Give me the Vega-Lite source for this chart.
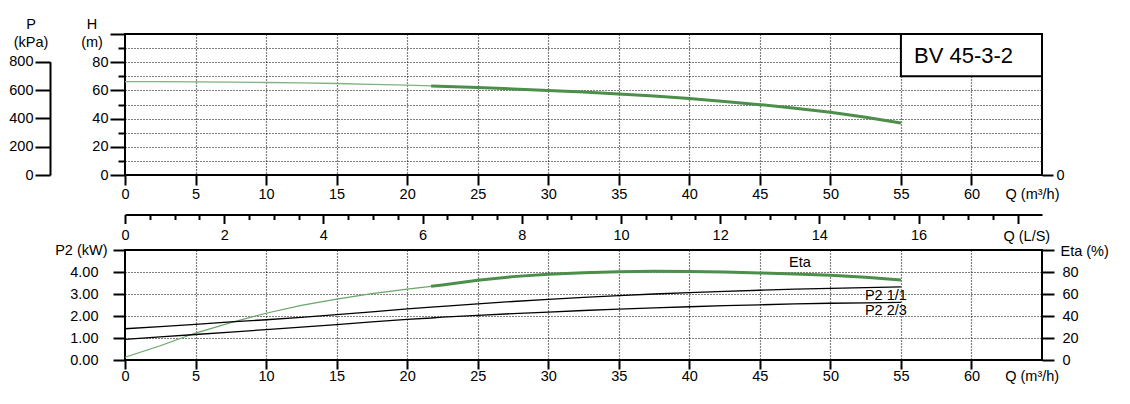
{
  "$schema": "https://vega.github.io/schema/vega-lite/v6.json",
  "padding": {"left": 7, "top": 15, "right": 5, "bottom": 5},
  "spacing": 35.5,
  "bounds": "flush",
  "background": "white",
  "config": {
    "font": "Liberation Sans",
    "view": {"stroke": "#000", "strokeWidth": 2},
    "axis": {
      "labelFont": "Liberation Sans", "labelFontSize": 14.5, "labelColor": "#000",
      "titleFont": "Liberation Sans", "titleFontSize": 14.5, "titleFontWeight": "normal", "titleColor": "#000",
      "tickColor": "#000", "tickWidth": 2, "domainColor": "#000", "domainWidth": 2,
      "gridColor": "#000", "gridDash": [1, 2], "gridWidth": 1.2,
      "labelFlush": false, "labelOverlap": false, "labelBound": false
    },
    "text": {"font": "Liberation Sans"}
  },
  "datasets": {
    "H": [
      {"Q": 0, "H": 66.2}, {"Q": 2.5, "H": 66.2}, {"Q": 5, "H": 66.1}, {"Q": 7.5, "H": 65.9},
      {"Q": 10, "H": 65.6}, {"Q": 12.5, "H": 65.3}, {"Q": 15, "H": 64.9}, {"Q": 17.5, "H": 64.3},
      {"Q": 20, "H": 63.7}, {"Q": 21.7, "H": 63.2}, {"Q": 25, "H": 62.0}, {"Q": 27.5, "H": 61.0},
      {"Q": 30, "H": 59.9}, {"Q": 32.5, "H": 58.8}, {"Q": 35, "H": 57.5}, {"Q": 37.5, "H": 56.0},
      {"Q": 40, "H": 54.2}, {"Q": 42.5, "H": 52.2}, {"Q": 45, "H": 49.9}, {"Q": 47.5, "H": 47.4},
      {"Q": 50, "H": 44.5}, {"Q": 52.5, "H": 41.0}, {"Q": 55, "H": 36.9}
    ],
    "perf": [
      {"Q": 0, "Eta": 2.5, "P2_11": 1.42, "P2_23": 0.94},
      {"Q": 2.5, "Eta": 13, "P2_11": 1.52, "P2_23": 1.05},
      {"Q": 5, "Eta": 24.5, "P2_11": 1.62, "P2_23": 1.16},
      {"Q": 7.5, "Eta": 34, "P2_11": 1.73, "P2_23": 1.27},
      {"Q": 10, "Eta": 42.5, "P2_11": 1.83, "P2_23": 1.38},
      {"Q": 12.5, "Eta": 49.7, "P2_11": 1.94, "P2_23": 1.49},
      {"Q": 15, "Eta": 55.3, "P2_11": 2.06, "P2_23": 1.61},
      {"Q": 17.5, "Eta": 60.3, "P2_11": 2.19, "P2_23": 1.73},
      {"Q": 20, "Eta": 64.5, "P2_11": 2.32, "P2_23": 1.85},
      {"Q": 21.7, "Eta": 67, "P2_11": 2.40, "P2_23": 1.91},
      {"Q": 22.5, "Eta": 68.2, "P2_11": 2.44, "P2_23": 1.95},
      {"Q": 25, "Eta": 72.5, "P2_11": 2.55, "P2_23": 2.03},
      {"Q": 27.5, "Eta": 75.8, "P2_11": 2.66, "P2_23": 2.11},
      {"Q": 30, "Eta": 78, "P2_11": 2.76, "P2_23": 2.18},
      {"Q": 32.5, "Eta": 79.3, "P2_11": 2.85, "P2_23": 2.25},
      {"Q": 35, "Eta": 80.2, "P2_11": 2.93, "P2_23": 2.31},
      {"Q": 37.5, "Eta": 80.6, "P2_11": 3.0, "P2_23": 2.37},
      {"Q": 40, "Eta": 80.5, "P2_11": 3.06, "P2_23": 2.42},
      {"Q": 42.5, "Eta": 80, "P2_11": 3.12, "P2_23": 2.47},
      {"Q": 45, "Eta": 79.2, "P2_11": 3.17, "P2_23": 2.51},
      {"Q": 47.5, "Eta": 78.2, "P2_11": 3.22, "P2_23": 2.55},
      {"Q": 50, "Eta": 77, "P2_11": 3.26, "P2_23": 2.58},
      {"Q": 52.5, "Eta": 75.2, "P2_11": 3.29, "P2_23": 2.60},
      {"Q": 55, "Eta": 72.8, "P2_11": 3.32, "P2_23": 2.62}
    ]
  },
  "vconcat": [
    {
      "width": 917,
      "height": 141,
      "layer": [
        {
          "data": {"name": "H"},
          "mark": {"type": "line", "color": "#7fb27f", "strokeWidth": 1.3},
          "encoding": {
            "x": {
              "field": "Q", "type": "quantitative",
              "scale": {"domain": [0, 65], "nice": false, "zero": false},
              "axis": {
                "values": [0,2.5,5,7.5,10,12.5,15,17.5,20,22.5,25,27.5,30,32.5,35,37.5,40,42.5,45,47.5,50,52.5,55,57.5,60,62.5],
                "labelExpr": "datum.value % 5 === 0 ? datum.label : ''",
                "tickSize": {"condition": {"test": "datum.value % 5 === 0", "value": 10}, "value": 6},
                "labelPadding": 2,
                "grid": true,
                "gridOpacity": {"condition": {"test": "datum.value % 5 === 0 && datum.value > 0", "value": 1}, "value": 0},
                "domain": false,
                "title": "Q (m³/h)", "titleX": 907, "titleY": 23, "titleAlign": "center", "titleBaseline": "alphabetic"
              }
            },
            "y": {
              "field": "H", "type": "quantitative",
              "scale": {"domain": [0, 100], "nice": false},
              "axis": {
                "orient": "left",
                "values": [0,10,20,30,40,50,60,70,80,90,100],
                "labelExpr": "datum.value % 20 === 0 && datum.value < 100 ? datum.label : ''",
                "tickSize": {"condition": {"test": "datum.value % 20 === 0", "value": 15}, "value": 7},
                "labelPadding": 2,
                "grid": true,
                "gridOpacity": {"condition": {"test": "datum.value > 0 && datum.value < 100", "value": 1}, "value": 0},
                "domain": false,
                "title": ["H", "(m)"], "titleAngle": 0, "titleX": -33.5, "titleY": -6,
                "titleAlign": "center", "titleBaseline": "alphabetic", "titleLineHeight": 18
              }
            }
          }
        },
        {
          "data": {"name": "H"},
          "transform": [{"filter": "datum.Q >= 21.7"}],
          "mark": {"type": "line", "color": "#4b8f4b", "strokeWidth": 3},
          "encoding": {
            "x": {"field": "Q", "type": "quantitative", "scale": {"domain": [0, 65], "nice": false, "zero": false}},
            "y": {"field": "H", "type": "quantitative", "scale": {"domain": [0, 100], "nice": false}, "axis": null}
          }
        },
        {
          "data": {"values": [{}]},
          "mark": {"type": "point", "opacity": 0},
          "encoding": {
            "y": {
              "datum": 0, "type": "quantitative",
              "scale": {"domain": [0, 800], "range": [141, 27.7], "nice": false},
              "axis": {
                "orient": "left", "offset": 75,
                "values": [0, 200, 400, 600, 800],
                "tickSize": 15, "labelPadding": 2, "domain": true, "grid": false,
                "title": ["P", "(kPa)"], "titleAngle": 0, "titleX": -19.5, "titleY": -6,
                "titleAlign": "center", "titleBaseline": "alphabetic", "titleLineHeight": 18
              }
            }
          }
        },
        {
          "data": {"values": [{}]},
          "mark": {"type": "point", "opacity": 0},
          "encoding": {
            "y": {
              "datum": 0, "type": "quantitative",
              "scale": {"domain": [0, 100], "nice": false},
              "axis": {"orient": "right", "values": [0], "tickSize": 11, "labelPadding": 3, "domain": false, "grid": false, "title": null}
            }
          }
        },
        {
          "data": {"values": [{}]},
          "mark": {"type": "rect", "fill": "white", "stroke": "#000", "strokeWidth": 2},
          "encoding": {
            "x": {"datum": 55, "type": "quantitative", "scale": {"domain": [0, 65], "nice": false, "zero": false}},
            "x2": {"datum": 65},
            "y": {"datum": 70, "type": "quantitative", "scale": {"domain": [0, 100], "nice": false}, "axis": null},
            "y2": {"datum": 100}
          }
        },
        {
          "data": {"values": [{"label": "BV 45-3-2"}]},
          "mark": {"type": "text", "align": "left", "baseline": "alphabetic", "fontSize": 22, "color": "#000"},
          "encoding": {
            "text": {"field": "label"},
            "x": {"datum": 55.93, "type": "quantitative", "scale": {"domain": [0, 65], "nice": false, "zero": false}},
            "y": {"datum": 79.1, "type": "quantitative", "scale": {"domain": [0, 100], "nice": false}, "axis": null}
          }
        }
      ],
      "resolve": {"scale": {"y": "independent"}, "axis": {"y": "independent"}}
    },
    {
      "width": 917,
      "height": 4,
      "view": {"stroke": null},
      "data": {"values": [{}]},
      "mark": {"type": "point", "opacity": 0},
      "encoding": {
        "x": {
          "datum": 0, "type": "quantitative",
          "scale": {"domain": [0, 18.49], "nice": false, "zero": false},
          "axis": {
            "orient": "bottom",
            "values": [0,0.5,1,1.5,2,2.5,3,3.5,4,4.5,5,5.5,6,6.5,7,7.5,8,8.5,9,9.5,10,10.5,11,11.5,12,12.5,13,13.5,14,14.5,15,15.5,16,16.5,17,17.5,18],
            "format": ".0f",
            "labelExpr": "datum.value % 2 === 0 && datum.value < 18 ? datum.label : ''",
            "tickSize": {"condition": {"test": "datum.value % 2 === 0", "value": 9}, "value": 5},
            "labelPadding": 5,
            "domain": true, "grid": false,
            "title": "Q (L/S)", "titleX": 901.3, "titleY": 25.7, "titleAlign": "center", "titleBaseline": "alphabetic"
          }
        }
      }
    },
    {
      "width": 917,
      "height": 110,
      "layer": [
        {
          "data": {"name": "perf"},
          "mark": {"type": "line", "color": "#6aa66a", "strokeWidth": 1.2},
          "encoding": {
            "x": {
              "field": "Q", "type": "quantitative",
              "scale": {"domain": [0, 65], "nice": false, "zero": false},
              "axis": {
                "values": [0,2.5,5,7.5,10,12.5,15,17.5,20,22.5,25,27.5,30,32.5,35,37.5,40,42.5,45,47.5,50,52.5,55,57.5,60,62.5],
                "labelExpr": "datum.value % 5 === 0 ? datum.label : ''",
                "tickSize": {"condition": {"test": "datum.value % 5 === 0", "value": 9}, "value": 5},
                "labelPadding": 0,
                "grid": true,
                "gridOpacity": {"condition": {"test": "datum.value % 5 === 0 && datum.value > 0", "value": 1}, "value": 0},
                "domain": false,
                "title": "Q (m³/h)", "titleX": 906.7, "titleY": 20.7, "titleAlign": "center", "titleBaseline": "alphabetic"
              }
            },
            "y": {
              "field": "Eta", "type": "quantitative",
              "scale": {"domain": [0, 100], "nice": false},
              "axis": {
                "orient": "right",
                "values": [0, 20, 40, 60, 80, 100],
                "labelExpr": "datum.value < 100 ? datum.label : ''",
                "tickSize": 12, "labelPadding": 8, "domain": false, "grid": false,
                "title": "Eta (%)", "titleAngle": 0, "titleX": 18, "titleY": 5.5,
                "titleAlign": "left", "titleBaseline": "alphabetic"
              }
            }
          }
        },
        {
          "data": {"name": "perf"},
          "transform": [{"filter": "datum.Q >= 21.7"}],
          "mark": {"type": "line", "color": "#4b8f4b", "strokeWidth": 3},
          "encoding": {
            "x": {"field": "Q", "type": "quantitative", "scale": {"domain": [0, 65], "nice": false, "zero": false}},
            "y": {"field": "Eta", "type": "quantitative", "scale": {"domain": [0, 100], "nice": false}, "axis": null}
          }
        },
        {
          "data": {"name": "perf"},
          "mark": {"type": "line", "color": "#000", "strokeWidth": 1.3},
          "encoding": {
            "x": {"field": "Q", "type": "quantitative", "scale": {"domain": [0, 65], "nice": false, "zero": false}},
            "y": {
              "field": "P2_11", "type": "quantitative",
              "scale": {"domain": [0, 5], "nice": false},
              "axis": {
                "orient": "left",
                "values": [0, 1, 2, 3, 4, 5],
                "format": ".2f",
                "labelExpr": "datum.value < 5 ? datum.label : ''",
                "tickSize": 12, "labelPadding": 15, "domain": false,
                "grid": true,
                "gridOpacity": {"condition": {"test": "datum.value > 0 && datum.value < 5", "value": 1}, "value": 0},
                "title": "P2 (kW)", "titleAngle": 0, "titleX": -18, "titleY": 4,
                "titleAlign": "right", "titleBaseline": "alphabetic"
              }
            }
          }
        },
        {
          "data": {"name": "perf"},
          "mark": {"type": "line", "color": "#000", "strokeWidth": 1.3},
          "encoding": {
            "x": {"field": "Q", "type": "quantitative", "scale": {"domain": [0, 65], "nice": false, "zero": false}},
            "y": {"field": "P2_23", "type": "quantitative", "scale": {"domain": [0, 5], "nice": false}, "axis": null}
          }
        },
        {
          "data": {"values": [{"label": "Eta"}]},
          "mark": {"type": "text", "align": "left", "baseline": "alphabetic", "fontSize": 14.5, "color": "#000"},
          "encoding": {
            "text": {"field": "label"},
            "x": {"datum": 47.07, "type": "quantitative", "scale": {"domain": [0, 65], "nice": false, "zero": false}},
            "y": {"datum": 84.5, "type": "quantitative", "scale": {"domain": [0, 100], "nice": false}, "axis": null}
          }
        },
        {
          "data": {"values": [{"label": "P2 1/1"}]},
          "mark": {"type": "text", "align": "left", "baseline": "alphabetic", "fontSize": 14.5, "color": "#000"},
          "encoding": {
            "text": {"field": "label"},
            "x": {"datum": 52.45, "type": "quantitative", "scale": {"domain": [0, 65], "nice": false, "zero": false}},
            "y": {"datum": 2.73, "type": "quantitative", "scale": {"domain": [0, 5], "nice": false}, "axis": null}
          }
        },
        {
          "data": {"values": [{"label": "P2 2/3"}]},
          "mark": {"type": "text", "align": "left", "baseline": "alphabetic", "fontSize": 14.5, "color": "#000"},
          "encoding": {
            "text": {"field": "label"},
            "x": {"datum": 52.45, "type": "quantitative", "scale": {"domain": [0, 65], "nice": false, "zero": false}},
            "y": {"datum": 2.05, "type": "quantitative", "scale": {"domain": [0, 5], "nice": false}, "axis": null}
          }
        }
      ],
      "resolve": {"scale": {"y": "independent"}, "axis": {"y": "independent"}}
    }
  ]
}
